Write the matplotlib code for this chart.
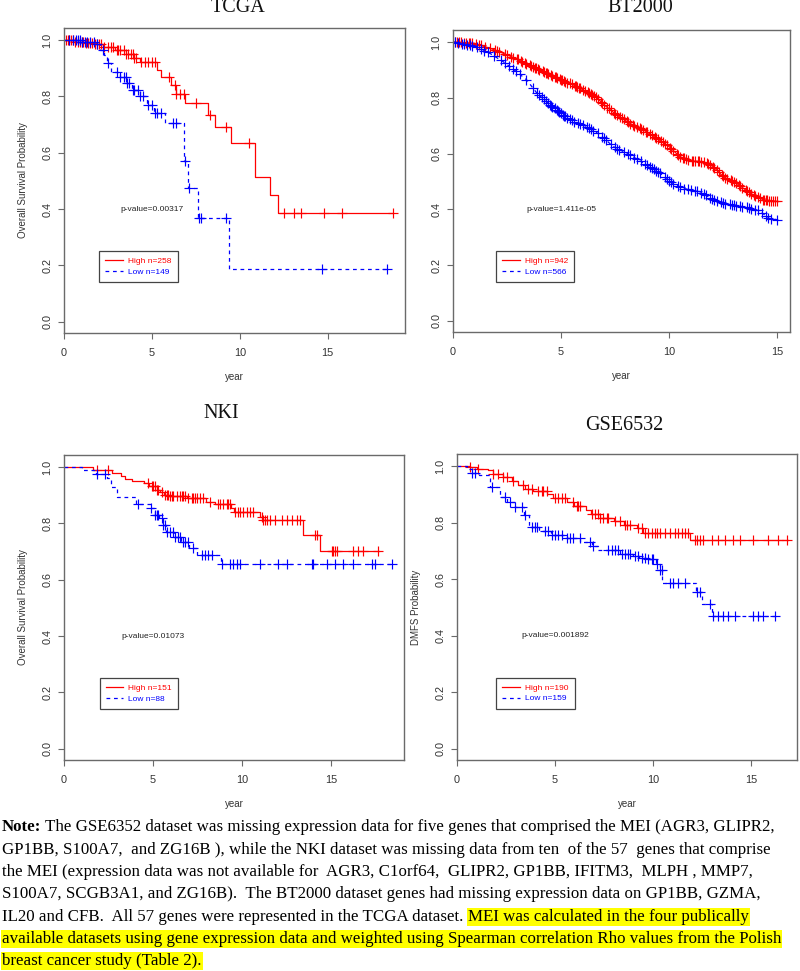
import numpy as np
import matplotlib.pyplot as plt
from matplotlib.text import Annotation

# ---------------- data ----------------
# TCGA
tcga_high_t = [0, 0.6, 1.2, 1.7, 2.2, 2.9, 3.5, 4.0, 4.3, 5.3, 5.5, 6.1, 6.4, 6.9, 8.2, 8.6, 9.5, 10.85, 11.7, 12.2]
tcga_high_s = [1.0, 0.995, 0.99, 0.985, 0.976, 0.965, 0.95, 0.935, 0.923, 0.893, 0.868, 0.84, 0.81, 0.775, 0.733, 0.69, 0.636, 0.515, 0.45, 0.387]
tcga_high_end = 18.7
tcga_high_cens = [0.1, 0.2, 0.3, 0.4, 0.5, 0.65, 0.8, 0.9, 1.0, 1.1, 1.25, 1.35, 1.5, 1.6, 1.75, 1.85, 2.0, 2.1, 2.3, 2.5, 2.7,
                  2.8, 3.0, 3.1, 3.2, 3.4, 3.5, 3.65, 3.8, 3.9, 4.0, 4.1, 4.4, 4.6, 4.8, 5.0, 5.2, 6.0, 6.3, 6.4, 6.6,
                  6.8, 7.5, 8.3, 9.2, 10.5, 12.5, 13.1, 13.5, 14.8, 15.8, 18.7]
tcga_low_t = [0, 1.0, 1.9, 2.05, 2.25, 2.45, 2.7, 3.2, 3.55, 3.85, 4.3, 4.7, 5.1, 5.75, 6.85, 7.05, 7.6, 9.4]
tcga_low_s = [1.0, 0.995, 0.985, 0.965, 0.947, 0.918, 0.888, 0.87, 0.847, 0.823, 0.8, 0.77, 0.74, 0.705, 0.57, 0.474, 0.37, 0.187]
tcga_low_end = 18.4
tcga_low_cens = [0.3, 0.5, 0.7, 0.8, 0.9, 1.0, 1.2, 1.3, 1.5, 1.7, 1.9, 2.2, 2.5, 3.0, 3.2, 3.4, 3.5, 3.6, 3.7, 3.9,
                 4.0, 4.2, 4.3, 4.5, 4.8, 5.0, 5.2, 5.3, 5.5, 6.2, 6.4, 6.9, 7.1, 7.7, 7.8, 9.2, 14.7, 18.4]

# BT2000
bt_high_t = [0, 1.0, 2.0, 2.87, 3.72, 4.49, 5.0, 5.57, 6.19, 6.65, 7.1, 7.58, 8.19, 8.81, 9.43, 10.0, 10.5, 10.97,
             11.59, 12.05, 12.51, 13.13, 13.75, 14.37, 15.06]
bt_high_s = [1.0, 0.995, 0.97, 0.942, 0.911, 0.882, 0.864, 0.846, 0.822, 0.8, 0.768, 0.738, 0.708, 0.685, 0.655, 0.625,
             0.589, 0.573, 0.571, 0.553, 0.517, 0.493, 0.458, 0.434, 0.428]
bt_high_cens = [0.1, 0.2, 0.3, 0.35, 0.5, 0.6, 0.75, 0.8, 0.9, 1.05, 1.2, 1.3, 1.5, 1.7, 1.95, 2.05, 2.15, 2.4, 2.5, 2.7,
                2.8, 2.95, 3.0, 3.15, 3.2, 3.35, 3.4, 3.55, 3.6, 3.7, 3.8, 3.85, 3.95, 4.0, 4.15, 4.2, 4.3, 4.35, 4.4,
                4.55, 4.6, 4.7, 4.75, 4.8, 4.95, 5.0, 5.05, 5.15, 5.2, 5.3, 5.4, 5.5, 5.65, 5.7, 5.75, 5.85, 5.9, 6.0,
                6.1, 6.25, 6.3, 6.4, 6.45, 6.55, 6.6, 6.7, 6.85, 6.9, 7.0, 7.15, 7.2, 7.3, 7.45, 7.5, 7.6, 7.75, 7.8,
                7.9, 8.05, 8.1, 8.2, 8.35, 8.4, 8.5, 8.65, 8.7, 8.8, 8.95, 9.0, 9.1, 9.2, 9.35, 9.4, 9.5, 9.65, 9.7,
                9.8, 9.9, 10.05, 10.1, 10.2, 10.35, 10.4, 10.5, 10.65, 10.7, 10.8, 10.9, 11.05, 11.1, 11.2, 11.35,
                11.4, 11.5, 11.6, 11.75, 11.8, 11.9, 12.05, 12.1, 12.2, 12.3, 12.45, 12.5, 12.6, 12.7, 12.85, 12.9,
                13.0, 13.1, 13.25, 13.3, 13.4, 13.55, 13.6, 13.7, 13.8, 13.95, 14.0, 14.1, 14.2, 14.35, 14.4, 14.5,
                14.55, 14.65, 14.7, 14.8, 14.9, 15.0]
bt_low_t = [0, 1.1, 1.71, 2.33, 2.95, 3.41, 3.88, 4.49, 5.0, 5.57, 6.19, 6.81, 7.42, 8.19, 8.97, 9.58, 10.0, 10.66,
            11.44, 12.05, 12.67, 13.6, 14.21, 14.6, 15.06]
bt_low_s = [1.0, 0.983, 0.959, 0.929, 0.893, 0.864, 0.817, 0.774, 0.744, 0.715, 0.697, 0.667, 0.625, 0.595, 0.559,
            0.53, 0.5, 0.475, 0.463, 0.434, 0.419, 0.407, 0.394, 0.368, 0.362]
bt_low_cens = [0.1, 0.25, 0.4, 0.5, 0.65, 0.8, 0.9, 1.1, 1.3, 1.45, 1.6, 1.9, 2.2, 2.4, 2.6, 2.8, 2.9, 3.1, 3.4, 3.7,
               3.9, 4.0, 4.1, 4.2, 4.3, 4.4, 4.5, 4.55, 4.6, 4.7, 4.8, 4.85, 4.9, 5.0, 5.1, 5.15, 5.2, 5.3, 5.4, 5.5,
               5.6, 5.8, 5.9, 6.0, 6.2, 6.3, 6.4, 6.5, 6.7, 6.9, 7.0, 7.1, 7.3, 7.5, 7.6, 7.7, 7.9, 8.1, 8.2, 8.4,
               8.5, 8.7, 8.9, 9.0, 9.1, 9.2, 9.3, 9.4, 9.5, 9.6, 9.8, 9.9, 10.0, 10.1, 10.2, 10.4, 10.5, 10.7, 10.9,
               11.0, 11.2, 11.3, 11.5, 11.6, 11.7, 11.9, 12.0, 12.1, 12.2, 12.4, 12.5, 12.6, 12.8, 12.9, 13.0, 13.1,
               13.3, 13.4, 13.6, 13.7, 13.8, 14.0, 14.1, 14.3, 14.5, 14.6, 14.7, 15.0]

# NKI
nki_high_t = [0, 1.65, 2.7, 3.2, 3.4, 3.8, 4.5, 4.75, 5.2, 5.4, 5.6, 5.9, 6.9, 8.0, 8.5, 9.4, 9.55, 11.0, 11.2, 13.4, 14.4]
nki_high_s = [1.0, 0.99, 0.978, 0.968, 0.957, 0.951, 0.942, 0.932, 0.918, 0.91, 0.9, 0.897, 0.889, 0.877, 0.868, 0.854,
              0.842, 0.824, 0.813, 0.76, 0.703]
nki_high_end = 17.7
nki_high_cens = [1.84, 2.49, 4.74, 4.92, 5.02, 5.11, 5.21, 5.3, 5.49, 5.67, 5.77, 5.86, 5.95, 6.05, 6.14, 6.33, 6.52,
                 6.61, 6.7, 6.8, 6.99, 7.17, 7.27, 7.36, 7.45, 7.64, 7.83, 8.2, 8.67, 8.76, 8.95, 9.14, 9.23, 9.33,
                 9.61, 9.79, 9.89, 10.07, 10.26, 10.45, 10.64, 11.11, 11.2, 11.29, 11.39, 11.57, 11.85, 12.23,
                 12.51, 12.79, 13.07, 13.26, 14.1, 14.2, 15.04, 15.13, 15.23, 15.32, 16.26, 16.54, 16.82, 17.66]
nki_low_t = [0, 1.0, 1.8, 2.4, 2.65, 2.95, 4.05, 4.9, 5.1, 5.35, 5.55, 5.75, 6.2, 6.6, 7.05, 7.45, 8.8]
nki_low_s = [1.0, 0.99, 0.975, 0.962, 0.928, 0.895, 0.868, 0.854, 0.83, 0.818, 0.794, 0.77, 0.753, 0.733, 0.712,
             0.689, 0.657]
nki_low_end = 18.4
nki_low_cens = [1.84, 2.3, 4.15, 4.9, 5.11, 5.21, 5.3, 5.49, 5.58, 5.67, 5.8, 5.95, 6.14, 6.24, 6.42, 6.52, 6.7, 6.8,
                6.99, 7.27, 7.74, 7.92, 8.11, 8.3, 8.86, 9.33, 9.51, 9.7, 9.89, 11.01, 12.04, 12.51, 13.91, 14.01,
                14.76, 15.23, 15.69, 16.26, 17.28, 17.47, 18.41]

# GSE6532
gse_high_t = [0, 0.65, 1.0, 1.6, 1.85, 2.35, 2.8, 3.1, 3.45, 3.9, 4.6, 4.9, 5.6, 5.95, 6.6, 6.85, 7.3, 8.0, 8.5, 9.2,
              9.5, 11.9]
gse_high_s = [1.0, 0.997, 0.99, 0.986, 0.972, 0.962, 0.947, 0.933, 0.918, 0.912, 0.903, 0.888, 0.874, 0.859, 0.845,
              0.829, 0.815, 0.807, 0.792, 0.78, 0.762, 0.738]
gse_high_end = 16.9
gse_high_cens = [0.66, 1.09, 1.85, 2.11, 2.36, 2.53, 2.87, 3.38, 3.64, 3.81, 4.15, 4.32, 4.4, 4.57, 5.0, 5.17, 5.34,
                 5.51, 5.94, 6.1, 6.19, 6.28, 6.87, 7.04, 7.21, 7.3, 7.47, 7.64, 7.72, 8.06, 8.32, 8.57, 8.66, 8.83,
                 9.25, 9.42, 9.59, 9.76, 9.93, 10.1, 10.19, 10.36, 10.61, 10.87, 11.12, 11.29, 11.46, 11.63, 11.8,
                 12.14, 12.23, 12.4, 12.57, 12.99, 13.33, 13.67, 14.1, 14.44, 15.12, 15.88, 16.4, 16.82]
gse_low_t = [0, 0.5, 0.75, 1.1, 1.7, 2.2, 2.55, 2.95, 3.4, 3.65, 4.2, 4.8, 5.6, 6.3, 6.9, 7.2, 8.3, 9.0, 9.3, 9.7,
             10.15, 10.35, 10.45, 12.2, 12.5, 13.0]
gse_low_s = [1.0, 0.99, 0.977, 0.969, 0.925, 0.892, 0.874, 0.856, 0.827, 0.783, 0.77, 0.756, 0.744, 0.732, 0.718,
             0.703, 0.689, 0.682, 0.674, 0.67, 0.654, 0.633, 0.586, 0.553, 0.512, 0.47]
gse_low_end = 16.3
gse_low_cens = [0.75, 0.92, 1.77, 2.45, 2.7, 2.96, 3.3, 3.47, 3.81, 3.98, 4.06, 4.49, 4.66, 4.83, 5.0, 5.17, 5.34,
                5.6, 5.77, 5.94, 6.28, 6.79, 6.96, 7.72, 7.89, 8.06, 8.23, 8.4, 8.57, 8.74, 8.83, 9.08, 9.25, 9.42,
                9.59, 9.76, 9.93, 10.02, 10.19, 10.36, 10.44, 10.87, 11.04, 11.29, 11.63, 12.23, 12.4, 12.91,
                13.08, 13.33, 13.59, 13.84, 14.18, 15.12, 15.37, 15.63, 16.22]

titles = ["TCGA", "BT2000", "NKI", "GSE6532"]
ylabels = ["Overall Survival Probability", "", "Overall Survival Probability", "DMFS Probability"]
pvalues = ["p-value=0.00317", "p-value=1.411e-05", "p-value=0.01073", "p-value=0.001892"]
high_n = [258, 942, 151, 190]
low_n = [149, 566, 88, 159]

note_lines = [
    ["Note:", " The GSE6352 dataset was missing expression data for five genes that comprised the MEI (AGR3, GLIPR2,"],
    ["GP1BB, S100A7,  and ZG16B ), while the NKI dataset was missing data from ten  of the 57  genes that comprise"],
    ["the MEI (expression data was not available for  AGR3, C1orf64,  GLIPR2, GP1BB, IFITM3,  MLPH , MMP7,"],
    ["S100A7, SCGB3A1, and ZG16B).  The BT2000 dataset genes had missing expression data on GP1BB, GZMA,"],
    ["IL20 and CFB.  All 57 genes were represented in the TCGA dataset. ", "MEI was calculated in the four publically"],
    ["available datasets using gene expression data and weighted using Spearman correlation Rho values from the Polish"],
    ["breast cancer study (Table 2)."],
]

# ---------------- drawing ----------------
W, H = 800, 971
fig = plt.figure(figsize=(W / 100, H / 100), dpi=100)
plt.rcParams['font.family'] = ['Liberation Sans', 'DejaVu Sans']

RED = '#FF0000'
BLUE = '#0000FF'
GRAY = '#6a6a6a'
DASH = (0, (3, 3))


def px_axes(l, t, r, b):
    return fig.add_axes([l / W, 1 - b / H, (r - l) / W, (b - t) / H])


def km(ax, t, s, cens, color, ls, end=None, smooth=False):
    t = list(t)
    s = list(s)
    if smooth:
        ax.plot(t, s, color=color, lw=0.9, ls=ls)
        yc = np.interp(cens, t, s)
    else:
        ax.step(t + [end], s + [s[-1]], where='post', color=color, lw=0.9, ls=ls)
        idx = np.searchsorted(t, cens, side='right') - 1
        yc = np.array(s)[idx]
    ax.plot(cens, yc, ls='none', marker='+', ms=7, mew=0.85, color=color)


boxes = [(64, 28, 405, 333), (453, 30, 790, 332), (64, 455, 404, 760), (457, 454, 797, 760)]
xmax = [19.4, 15.6, 19.1, 17.35]
axes = [px_axes(*b) for b in boxes]

km(axes[0], tcga_high_t, tcga_high_s, tcga_high_cens, RED, '-', tcga_high_end)
km(axes[0], tcga_low_t, tcga_low_s, tcga_low_cens, BLUE, DASH, tcga_low_end)
km(axes[1], bt_high_t, bt_high_s, bt_high_cens, RED, '-', smooth=True)
km(axes[1], bt_low_t, bt_low_s, bt_low_cens, BLUE, DASH, smooth=True)
km(axes[2], nki_high_t, nki_high_s, nki_high_cens, RED, '-', nki_high_end)
km(axes[2], nki_low_t, nki_low_s, nki_low_cens, BLUE, DASH, nki_low_end)
km(axes[3], gse_high_t, gse_high_s, gse_high_cens, RED, '-', gse_high_end)
km(axes[3], gse_low_t, gse_low_s, gse_low_cens, BLUE, DASH, gse_low_end)

for i, ax in enumerate(axes):
    ax.set_xlim(0, xmax[i])
    ax.set_ylim(-0.04, 1.043)
    ax.set_xticks([0, 5, 10, 15])
    ax.set_yticks([0, 0.2, 0.4, 0.6, 0.8, 1.0])
    ax.set_yticklabels(["0.0", "0.2", "0.4", "0.6", "0.8", "1.0"], rotation=90, va='center')
    ax.tick_params(direction='out', length=4.5, width=0.8, color=GRAY, labelsize=7.8, labelcolor='#333333')
    ax.tick_params(axis='x', pad=6.5)
    ax.tick_params(axis='y', pad=4)
    for sp in ax.spines.values():
        sp.set_color(GRAY)
        sp.set_linewidth(1.0)
    ax.set_xlabel("year", fontsize=7, color='#333333', labelpad=10)
    ax.set_ylabel(ylabels[i], fontsize=7, color='#333333', labelpad=10)
    ax.text(5, 0.4, pvalues[i], ha='center', va='center', fontsize=6, color='#222222')
    leg = ax.legend([plt.Line2D([], [], color=RED, lw=0.9),
                     plt.Line2D([], [], color=BLUE, lw=0.9, ls=DASH)],
                    ["High n=%d" % high_n[i], "Low n=%d" % low_n[i]],
                    loc='upper left', bbox_to_anchor=(2, 0.25), bbox_transform=ax.transData,
                    fontsize=6, labelcolor=[RED, BLUE], fancybox=False, framealpha=1,
                    edgecolor='#444444', handlelength=2.1, handletextpad=0.6, borderpad=0.75,
                    labelspacing=0.3, borderaxespad=0)
    leg.get_frame().set_linewidth(0.9)

title_pos = [(238, 8), (640, 8), (221, 413), (624, 426)]
for (x, y), t in zip(title_pos, titles):
    fig.text(x / W, 1 - y / H, t, ha='center', va='center', fontsize=14.5,
             family='Liberation Serif', color='#111111')

# note text
line_y = [827, 850, 872, 894, 917, 939, 961]
note_font = dict(family='Liberation Serif', fontsize=12.2, color='black')
hl_box = dict(boxstyle='square,pad=0.06', fc='#FFFF00', ec='none')
for k, parts in enumerate(note_lines):
    first = fig.text(2 / W, 1 - line_y[k] / H, parts[0], ha='left', va='center',
                     fontweight='bold' if k == 0 else 'normal',
                     bbox=hl_box if k >= 5 else None, **note_font)
    prev = first
    for p in parts[1:]:
        an = Annotation(p, xy=(1, 0.5), xycoords=prev, ha='left', va='center',
                        bbox=hl_box if k == 4 else None, **note_font)
        fig.add_artist(an)
        prev = an

fig.savefig("out.png", dpi=100)
